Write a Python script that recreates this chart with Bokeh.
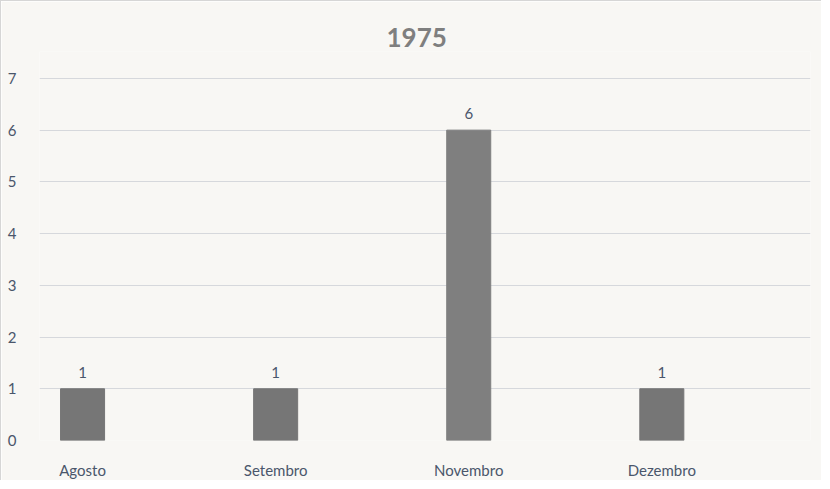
from bokeh.plotting import figure
from bokeh.models import ColumnDataSource, FixedTicker, Range1d
from bokeh.core.properties import value
from bokeh.embed import file_html
from bokeh.resources import INLINE

title_text = "1975"
months = ["Agosto", "Setembro", "Novembro", "Dezembro"]
counts = [1, 1, 6, 1]
bar_colors = ["#767676", "#767676", "#7f7f7f", "#767676"]
y_ticks = [0, 1, 2, 3, 4, 5, 6, 7]

FONT = "Lato"
TXT = "#4a566b"

xs = list(range(len(months)))
src = ColumnDataSource(dict(x=xs, y=counts, color=bar_colors,
                            label=[str(c) for c in counts]))

p = figure(width=821, height=480, output_backend="svg", toolbar_location=None,
           x_range=Range1d(-0.223, 3.77), y_range=Range1d(0, 7.52),
           title=title_text)
p.min_border_left = 38
p.min_border_right = 12
p.min_border_top = 50
p.min_border_bottom = 40
p.background_fill_color = "#f8f7f4"
p.border_fill_color = "#f8f7f4"
p.outline_line_color = None
p.styles = {"border-left": "1px solid #d6d6d6", "border-top": "1px solid #d6d6d6"}

p.title.align = "left"
p.title.offset = 347
p.title.text_font = FONT
p.title.text_font_size = "26px"
p.title.text_font_style = "bold"
p.title.text_color = "#7f7f7f"
p.title.standoff = 10

p.vbar(x="x", top="y", bottom=0, width=0.228, color="color", source=src)
p.text(x="x", y="y", text="label", source=src, text_align="center",
       text_baseline="bottom", y_offset=-11, text_font=value(FONT),
       text_font_size="15px", text_color=TXT)

p.xaxis.ticker = FixedTicker(ticks=xs)
p.xaxis.major_label_overrides = {i: m for i, m in enumerate(months)}
p.yaxis.ticker = FixedTicker(ticks=y_ticks)
for ax in (p.xaxis[0], p.yaxis[0]):
    ax.axis_line_color = None
    ax.major_tick_line_color = None
    ax.minor_tick_line_color = None
    ax.major_label_text_font = FONT
    ax.major_label_text_font_size = "15px"
    ax.major_label_text_color = TXT
p.xaxis.major_label_standoff = 14
p.yaxis.major_label_standoff = 17

p.xgrid.grid_line_color = None
p.ygrid.grid_line_color = "#d6d8dc"
p.ygrid.grid_line_width = 1

open("out.html", "w").write(file_html(p, INLINE))
